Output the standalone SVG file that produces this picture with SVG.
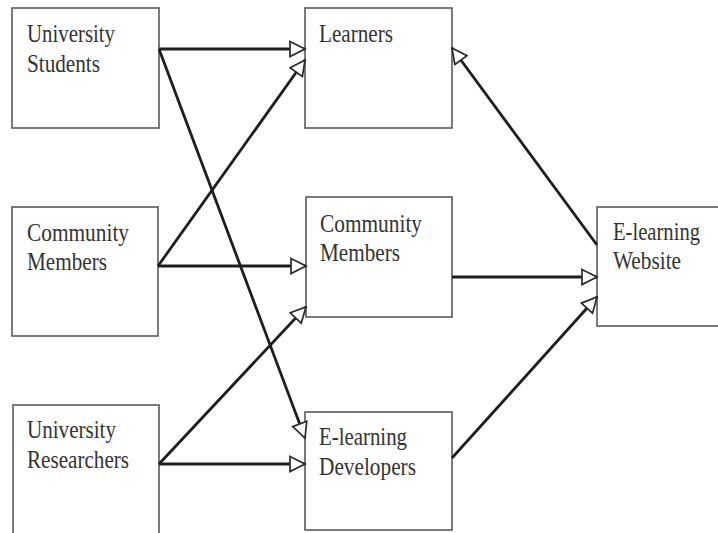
<svg xmlns="http://www.w3.org/2000/svg" width="718" height="533" viewBox="0 0 718 533">
  <style>
    .box rect { fill: #ffffff; stroke: #5a5a5a; stroke-width: 1.6; }
    .box text { font-family: "Liberation Serif", "Times New Roman", serif; font-size: 25px; fill: #333333; }
    .edge { stroke: #1e1e1e; stroke-width: 2.8; fill: none; marker-end: url(#open); }
  </style>
  <defs>
    <marker id="open" markerUnits="userSpaceOnUse" markerWidth="20" markerHeight="18" refX="16" refY="8" orient="auto" viewBox="-1 -1 20 18">
      <path d="M1,0.5 L16,8 L1,15.5 Z" fill="#ffffff" stroke="#2a2a2a" stroke-width="1.7" stroke-linejoin="miter"/>
    </marker>
  </defs>

  <!-- sources -->
  <g id="university-students" class="box">
    <rect x="12" y="8" width="147" height="120"/>
    <text x="27" y="42" textLength="88" lengthAdjust="spacingAndGlyphs">University</text>
    <text x="27" y="72" textLength="73" lengthAdjust="spacingAndGlyphs">Students</text>
  </g>
  <g id="community-members-source" class="box">
    <rect x="12" y="207" width="146" height="129"/>
    <text x="27" y="241" textLength="102" lengthAdjust="spacingAndGlyphs">Community</text>
    <text x="27" y="270" textLength="80" lengthAdjust="spacingAndGlyphs">Members</text>
  </g>
  <g id="university-researchers" class="box">
    <rect x="13" y="405" width="146" height="140"/>
    <text x="27" y="438" textLength="89" lengthAdjust="spacingAndGlyphs">University</text>
    <text x="27" y="468" textLength="102" lengthAdjust="spacingAndGlyphs">Researchers</text>
  </g>

  <!-- roles -->
  <g id="learners" class="box">
    <rect x="305" y="8" width="147" height="120"/>
    <text x="319" y="42" textLength="74" lengthAdjust="spacingAndGlyphs">Learners</text>
  </g>
  <g id="community-members" class="box">
    <rect x="306" y="197" width="146" height="120"/>
    <text x="320" y="232" textLength="102" lengthAdjust="spacingAndGlyphs">Community</text>
    <text x="320" y="261" textLength="80" lengthAdjust="spacingAndGlyphs">Members</text>
  </g>
  <g id="elearning-developers" class="box">
    <rect x="305" y="412" width="147" height="118"/>
    <text x="319" y="445" textLength="88" lengthAdjust="spacingAndGlyphs">E-learning</text>
    <text x="319" y="475" textLength="97" lengthAdjust="spacingAndGlyphs">Developers</text>
  </g>

  <!-- target -->
  <g id="elearning-website" class="box">
    <rect x="597" y="207" width="130" height="119"/>
    <text x="613" y="240" textLength="87" lengthAdjust="spacingAndGlyphs">E-learning</text>
    <text x="613" y="269" textLength="68" lengthAdjust="spacingAndGlyphs">Website</text>
  </g>

  <g id="connectors">
    <line class="edge" x1="159" y1="49" x2="305" y2="49"/>
    <line class="edge" x1="159" y1="49" x2="305" y2="438"/>
    <line class="edge" x1="158" y1="266" x2="305" y2="60"/>
    <line class="edge" x1="158" y1="266" x2="306" y2="266"/>
    <line class="edge" x1="159" y1="464" x2="306" y2="307"/>
    <line class="edge" x1="159" y1="464" x2="305" y2="464"/>
    <line class="edge" x1="452" y1="277" x2="597" y2="277"/>
    <line class="edge" x1="452" y1="458" x2="597" y2="297"/>
    <line class="edge" x1="597" y1="245" x2="452" y2="48"/>
  </g>
</svg>
